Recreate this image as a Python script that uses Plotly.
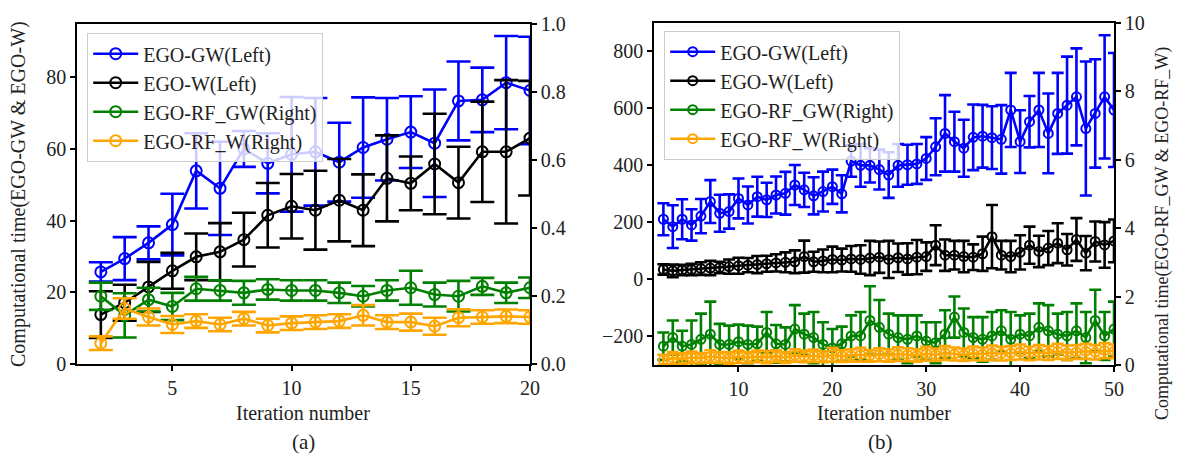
import plotly.graph_objects as go

# ---------------- Panel (a) data ----------------
iter_a = [2, 3, 4, 5, 6, 7, 8, 9, 10, 11, 12, 13, 14, 15, 16, 17, 18, 19, 20]
gw_a = [25.7, 29.4, 33.8, 38.9, 53.9, 49.0, 60.0, 56.0, 58.5, 59.2, 56.3, 60.4, 62.7, 64.7, 61.6, 73.4, 73.7, 78.5, 76.3]
gw_a_err = [2.7, 6, 4.6, 8.6, 10.5, 13, 5, 8.4, 16, 15, 11, 14, 11.5, 10, 15, 11, 9, 13, 15]
w_a = [13.8, 17.1, 21.5, 26.0, 29.9, 31.3, 34.7, 41.5, 44.0, 42.9, 45.7, 42.9, 51.8, 50.4, 55.8, 50.6, 59.2, 59.2, 63.0]
w_a_err = [6.5, 5, 7, 5, 6.5, 8, 7.5, 9, 9, 11, 11.5, 10, 12, 7.5, 14, 10, 14, 20, 16]
rfgw_a = [0.199, 0.143, 0.189, 0.169, 0.221, 0.216, 0.209, 0.219, 0.216, 0.216, 0.209, 0.199, 0.216, 0.224, 0.204, 0.199, 0.228, 0.209, 0.224]
rfgw_a_err = [0.04, 0.065, 0.035, 0.04, 0.035, 0.03, 0.035, 0.03, 0.03, 0.03, 0.03, 0.03, 0.03, 0.05, 0.035, 0.045, 0.025, 0.03, 0.03]
rfw_a = [0.061, 0.163, 0.138, 0.116, 0.126, 0.116, 0.133, 0.113, 0.120, 0.123, 0.126, 0.143, 0.123, 0.123, 0.111, 0.136, 0.138, 0.140, 0.138]
rfw_a_err = [0.02, 0.03, 0.025, 0.025, 0.02, 0.02, 0.02, 0.02, 0.02, 0.02, 0.02, 0.03, 0.02, 0.025, 0.025, 0.025, 0.02, 0.02, 0.02]

# ---------------- Panel (b) data ----------------
iter_b = [2, 3, 4, 5, 6, 7, 8, 9, 10, 11, 12, 13, 14, 15, 16, 17, 18, 19, 20, 21,
          22, 23, 24, 25, 26, 27, 28, 29, 30, 31, 32, 33, 34, 35, 36, 37, 38, 39, 40,
          41, 42, 43, 44, 45, 46, 47, 48, 49, 50]
gw_b = [211, 185, 211, 191, 222, 273, 232, 238, 284, 261, 290, 279, 296, 302, 331, 314, 293, 308, 325, 300,
        415, 400, 400, 385, 366, 400, 402, 405, 424,
        465, 512, 483, 460, 498, 502, 497, 491, 594, 483, 553, 594, 512, 582, 611, 640, 529, 582, 640, 594]
gw_b_err = [56, 75, 70, 55, 60, 75, 65, 60, 70, 65, 70, 60, 65, 75, 70, 60, 65, 70, 60, 65,
            55, 75, 60, 70, 80, 75, 70, 70, 75,
            100, 134, 105, 100, 115, 110, 110, 120, 130, 110, 90, 130, 140, 142, 170, 170, 235, 190, 216, 200]
w_b = [35, 30, 33, 35, 38, 40, 42, 45, 48, 50, 52, 55, 58, 60, 62, 80, 62, 65, 70, 68,
       72, 70, 75, 78, 70, 76, 72, 78, 80, 120, 85,
       85, 80, 78, 90, 150, 85, 80, 95, 120, 98, 110, 127, 104, 140, 92, 133, 121, 135]
w_b_err = [18, 22, 18, 20, 22, 25, 20, 25, 28, 25, 30, 28, 30, 35, 40, 56, 35, 40, 45, 40,
           45, 50, 60, 55, 65, 50, 55, 60, 50, 70, 55,
           50, 55, 45, 60, 111, 50, 55, 60, 65, 55, 60, 70, 55, 75, 60, 70, 80, 75]
rfgw_b = [0.55, 0.8, 0.55, 0.6, 0.75, 0.9, 0.6, 0.6, 0.68, 0.6, 0.62, 0.95, 0.62, 0.6, 1.05, 0.9, 0.8, 0.6, 0.5, 0.62,
          0.85, 0.85, 1.3, 1.1, 0.9, 0.8, 0.75, 0.85, 0.7, 0.65, 0.9,
          1.4, 0.95, 0.8, 0.75, 0.85, 1.0, 0.75, 0.9, 0.85, 1.1, 1.0, 0.9, 0.85, 1.0, 0.8, 1.3, 0.85, 1.05]
rfgw_b_err = [0.4, 0.5, 0.45, 0.7, 0.75, 0.95, 0.6, 0.55, 0.5, 0.55, 0.5, 0.6, 0.55, 0.5, 0.7, 0.6, 0.75, 0.65, 0.55, 0.5,
              0.6, 0.7, 1.0, 0.8, 0.6, 0.65, 0.7, 0.6, 0.55, 0.6, 0.7,
              0.6, 0.7, 0.6, 0.65, 0.7, 0.6, 0.8, 0.55, 0.65, 0.7, 0.75, 0.6, 0.7, 0.8, 0.75, 0.9, 0.7, 0.8]
rfw_b = [0.15, 0.2, 0.18, 0.22, 0.2, 0.25, 0.22, 0.2, 0.24, 0.22, 0.25, 0.23, 0.26, 0.22, 0.28, 0.25, 0.27, 0.24, 0.3, 0.26,
         0.28, 0.3, 0.27, 0.3, 0.28, 0.32, 0.3, 0.28, 0.33, 0.3, 0.35,
         0.32, 0.3, 0.34, 0.32, 0.36, 0.33, 0.35, 0.38, 0.34, 0.37, 0.35, 0.4, 0.36, 0.38, 0.4, 0.37, 0.42, 0.4]
rfw_b_err = [0.15, 0.18, 0.16, 0.17, 0.15, 0.18, 0.16, 0.17, 0.18, 0.16, 0.17, 0.18, 0.17, 0.16, 0.18, 0.17, 0.18, 0.16, 0.2, 0.17,
             0.18, 0.2, 0.17, 0.19, 0.18, 0.2, 0.19, 0.18, 0.2, 0.18, 0.2,
             0.19, 0.18, 0.2, 0.19, 0.21, 0.2, 0.2, 0.22, 0.2, 0.21, 0.2, 0.22, 0.21, 0.2, 0.22, 0.21, 0.22, 0.2]

names = ["EGO-GW(Left)", "EGO-W(Left)", "EGO-RF_GW(Right)", "EGO-RF_W(Right)"]
colors = ["#0000ff", "#000000", "#008000", "#ffa500"]

# the page body has an 8px margin, so the figure is sized to fit inside the window
OFF = 8
W, H = 1182 - 2 * OFF, 464 - 2 * OFF
FONT = "Liberation Serif, Times New Roman, serif"
TXT = "#222222"


def px_x(p):
    return (p - OFF) / W


def px_y(p):
    return 1 - (p - OFF) / H


fig = go.Figure()


def add_series(x, y, err, idx, xa, ya, legend, cap, msize):
    fig.add_trace(go.Scatter(
        x=x, y=y, name=names[idx], mode="lines+markers",
        xaxis=xa, yaxis=ya, legend=legend,
        line=dict(color=colors[idx], width=2.6),
        marker=dict(symbol="circle-open", size=msize, color=colors[idx], line=dict(width=2, color=colors[idx])),
        error_y=dict(type="data", array=err, visible=True, color=colors[idx], thickness=2.6, width=cap),
    ))


# panel (a)
add_series(iter_a, gw_a, gw_a_err, 0, "x", "y", "legend", 12, 11)
add_series(iter_a, w_a, w_a_err, 1, "x", "y", "legend", 12, 11)
add_series(iter_a, rfgw_a, rfgw_a_err, 2, "x", "y2", "legend", 12, 11)
add_series(iter_a, rfw_a, rfw_a_err, 3, "x", "y2", "legend", 12, 11)
# panel (b)
add_series(iter_b, gw_b, gw_b_err, 0, "x2", "y3", "legend2", 6, 9)
add_series(iter_b, w_b, w_b_err, 1, "x2", "y3", "legend2", 6, 9)
add_series(iter_b, rfgw_b, rfgw_b_err, 2, "x2", "y4", "legend2", 6, 9)
add_series(iter_b, rfw_b, rfw_b_err, 3, "x2", "y4", "legend2", 6, 9)

axis_common = dict(showgrid=False, zeroline=False, showline=True, linecolor="black", linewidth=1.6,
                   ticks="outside", ticklen=5, tickwidth=1.5, tickcolor="black", automargin=False,
                   tickfont=dict(family=FONT, size=20, color=TXT))

ya_dom = [px_y(364), px_y(23.5)]
yb_dom = [px_y(365), px_y(22.7)]

legend_common = dict(xanchor="left", yanchor="top",
                     bgcolor="rgba(255,255,255,0.8)", bordercolor="#cccccc", borderwidth=1.2,
                     font=dict(family=FONT, size=20, color=TXT), itemwidth=45, tracegroupgap=0)


def label(text, xp, yp, size, angle=0):
    return dict(text=text, x=px_x(xp), y=px_y(yp), xref="paper", yref="paper",
                xanchor="center", yanchor="middle", textangle=angle, showarrow=False,
                font=dict(family=FONT, size=size, color=TXT))


fig.update_layout(
    width=W, height=H,
    margin=dict(l=0, r=0, t=0, b=0, autoexpand=False),
    paper_bgcolor="white", plot_bgcolor="white",
    font=dict(family=FONT, size=20, color=TXT),
    xaxis=dict(domain=[px_x(77), px_x(530)], anchor="y", range=[1, 20], tickvals=[5, 10, 15, 20],
               mirror=True, **axis_common),
    yaxis=dict(domain=ya_dom, anchor="x", range=[0, 95], tickvals=[0, 20, 40, 60, 80], **axis_common),
    yaxis2=dict(overlaying="y", side="right", anchor="x", range=[0, 1.0],
                tickvals=[0, 0.2, 0.4, 0.6, 0.8, 1.0], tickformat=".1f", **axis_common),
    xaxis2=dict(domain=[px_x(654), px_x(1114)], anchor="y3", range=[1, 50], tickvals=[10, 20, 30, 40, 50],
                mirror=True, **axis_common),
    yaxis3=dict(domain=yb_dom, anchor="x2", range=[-300, 900], tickvals=[-200, 0, 200, 400, 600, 800],
                **axis_common),
    yaxis4=dict(overlaying="y3", side="right", anchor="x2", range=[0, 10],
                tickvals=[0, 2, 4, 6, 8, 10], **axis_common),
    legend=dict(x=px_x(87), y=px_y(33), **legend_common),
    legend2=dict(x=px_x(664), y=px_y(31), **legend_common),
    annotations=[
        label("Iteration number", 303, 413, 20),
        label("Iteration number", 884, 413, 20),
        label("(a)", 303, 442, 21),
        label("(b)", 880, 442, 21),
        label("Computational time(EGO-GW & EGO-W)", 18, 194, 20, -90),
        label("Computational time(EGO-RF_GW & EGO-RF_W)", 1162, 234, 18, -90),
    ],
)

fig.write_html("out.html")
